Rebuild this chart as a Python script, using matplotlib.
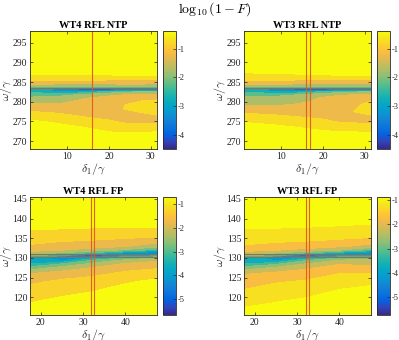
import matplotlib
matplotlib.use('Agg')
import numpy as np
import matplotlib.pyplot as plt
from matplotlib.colors import LinearSegmentedColormap, Normalize
from matplotlib.cm import ScalarMappable

plt.rcParams['font.family'] = 'Liberation Serif'
plt.rcParams['mathtext.fontset'] = 'cm'
plt.rcParams['axes.unicode_minus'] = False

# parula anchors (every 4th entry of the 64-colour map)
parula_rgb = [
    (0.2081, 0.1663, 0.5292), (0.1959, 0.2645, 0.7279), (0.0117, 0.3875, 0.8820),
    (0.0498, 0.4586, 0.8641), (0.0793, 0.5200, 0.8312), (0.0343, 0.5966, 0.8199),
    (0.0228, 0.6535, 0.7768), (0.0843, 0.6928, 0.7062), (0.2178, 0.7250, 0.6193),
    (0.3953, 0.7459, 0.5244), (0.5709, 0.7485, 0.4494), (0.7184, 0.7411, 0.3905),
    (0.8507, 0.7299, 0.3360), (0.9739, 0.7314, 0.2666), (0.9880, 0.8066, 0.1794),
    (0.9589, 0.8949, 0.1132), (0.9763, 0.9831, 0.0538)]
parula = LinearSegmentedColormap.from_list('parula', parula_rgb)

# ---- NTP panels: log10(1-F) ----
ntp_x = [1, 8, 14, 20, 24, 31.5]
ntp_y = [268, 272, 273.5, 275, 276.2, 277.5, 278.3, 279.3, 280.2, 281.0,
         281.8, 282.6, 283.0, 283.4, 284.0, 284.8, 285.8, 286.6, 287.5, 298]

wt4_ntp = [
    [-0.30, -0.30, -0.30, -0.30, -0.30, -0.30],
    [-0.35, -0.37, -0.40, -0.45, -0.48, -0.42],
    [-0.38, -0.42, -0.50, -0.65, -0.80, -0.75],
    [-0.45, -0.55, -0.75, -0.95, -1.08, -1.15],
    [-0.65, -0.80, -1.00, -1.12, -1.10, -1.05],
    [-0.98, -1.10, -1.15, -1.12, -1.05, -0.90],
    [-1.15, -1.20, -1.20, -1.10, -0.98, -0.80],
    [-1.45, -1.45, -1.30, -1.15, -1.00, -0.85],
    [-1.70, -1.65, -1.40, -1.20, -1.05, -0.95],
    [-1.90, -1.80, -1.55, -1.35, -1.20, -1.10],
    [-2.30, -2.20, -1.90, -1.60, -1.50, -1.45],
    [-2.60, -3.00, -2.90, -2.40, -2.10, -2.00],
    [-2.70, -3.60, -4.40, -4.30, -3.90, -3.70],
    [-2.40, -2.90, -3.20, -3.10, -2.90, -2.80],
    [-1.80, -1.90, -1.90, -1.90, -1.85, -1.80],
    [-1.30, -1.30, -1.30, -1.30, -1.30, -1.35],
    [-0.80, -0.85, -0.85, -0.90, -0.90, -0.95],
    [-0.58, -0.58, -0.56, -0.54, -0.50, -0.48],
    [-0.40, -0.40, -0.40, -0.40, -0.40, -0.40],
    [-0.30, -0.30, -0.30, -0.30, -0.30, -0.30]]

wt3_ntp = [
    [-0.30, -0.30, -0.30, -0.30, -0.30, -0.30],
    [-0.35, -0.36, -0.38, -0.40, -0.42, -0.44],
    [-0.40, -0.42, -0.50, -0.62, -0.72, -0.78],
    [-0.52, -0.60, -0.75, -0.90, -1.05, -1.12],
    [-0.80, -0.90, -1.00, -1.10, -1.10, -1.05],
    [-1.10, -1.15, -1.20, -1.15, -1.08, -0.90],
    [-1.30, -1.30, -1.30, -1.20, -1.08, -0.93],
    [-1.60, -1.60, -1.45, -1.25, -1.10, -0.95],
    [-1.75, -1.75, -1.65, -1.35, -1.15, -1.00],
    [-1.85, -1.85, -1.75, -1.45, -1.30, -1.15],
    [-2.10, -2.20, -2.00, -1.70, -1.55, -1.45],
    [-2.60, -2.90, -2.90, -2.50, -2.20, -2.00],
    [-2.70, -3.50, -4.30, -4.40, -4.00, -3.70],
    [-2.40, -2.90, -3.20, -3.10, -2.90, -2.80],
    [-1.80, -1.85, -1.90, -1.90, -1.88, -1.85],
    [-1.25, -1.28, -1.30, -1.32, -1.35, -1.38],
    [-0.85, -0.87, -0.90, -0.92, -0.95, -0.98],
    [-0.62, -0.60, -0.58, -0.55, -0.52, -0.48],
    [-0.48, -0.45, -0.42, -0.40, -0.38, -0.36],
    [-0.30, -0.30, -0.30, -0.30, -0.30, -0.30]]

# ---- FP panels ----
fp_x = [17.5, 25, 32, 40, 47.5]
fp_y = [115.5, 119, 122, 124, 126, 127.5, 128.5, 129.3, 130, 130.6,
        131.2, 132, 133, 134.5, 136, 138, 145.5]

wt4_fp = [
    [-0.80, -0.70, -0.68, -0.66, -0.65],
    [-1.03, -0.90, -0.80, -0.72, -0.70],
    [-1.35, -1.15, -1.05, -0.88, -0.78],
    [-1.60, -1.40, -1.30, -1.05, -0.90],
    [-2.00, -1.75, -1.62, -1.40, -1.20],
    [-2.80, -2.30, -2.00, -1.65, -1.55],
    [-3.50, -3.00, -2.40, -1.95, -1.80],
    [-3.80, -4.00, -2.90, -2.30, -2.05],
    [-3.40, -4.60, -3.80, -2.90, -2.50],
    [-2.90, -3.50, -5.60, -4.00, -3.60],
    [-2.30, -2.60, -3.20, -4.20, -4.70],
    [-1.80, -2.00, -2.20, -2.60, -3.30],
    [-1.55, -1.70, -1.80, -1.95, -2.30],
    [-1.38, -1.45, -1.50, -1.60, -1.75],
    [-1.15, -1.18, -1.22, -1.28, -1.30],
    [-0.90, -0.92, -0.95, -0.98, -0.97],
    [-0.70, -0.70, -0.68, -0.66, -0.65]]

wt3_fp = [
    [-0.85, -0.78, -0.72, -0.70, -0.68],
    [-1.12, -1.02, -0.92, -0.82, -0.76],
    [-1.50, -1.30, -1.20, -1.00, -0.90],
    [-1.85, -1.55, -1.45, -1.20, -1.10],
    [-2.05, -1.85, -1.72, -1.50, -1.48],
    [-2.80, -2.40, -2.10, -1.72, -1.90],
    [-3.50, -3.10, -2.50, -2.05, -2.10],
    [-3.80, -4.00, -3.00, -2.40, -2.30],
    [-3.40, -4.50, -3.90, -3.00, -2.60],
    [-2.90, -3.40, -5.50, -4.10, -3.70],
    [-2.30, -2.55, -3.10, -4.00, -4.60],
    [-1.80, -1.98, -2.15, -2.50, -3.20],
    [-1.55, -1.68, -1.78, -1.90, -2.20],
    [-1.32, -1.40, -1.45, -1.55, -1.70],
    [-1.12, -1.15, -1.20, -1.25, -1.28],
    [-0.95, -0.96, -0.98, -1.01, -1.03],
    [-0.72, -0.70, -0.68, -0.67, -0.66]]

ntp_levels = [-4.5, -4, -3.5, -3, -2.5, -2, -1.5, -1, -0.5, 0]
fp_levels = [-5.7, -5.5, -5, -4.5, -4, -3.5, -3, -2.5, -2, -1.5, -1, 0]

panels = [
    ("WT4 RFL NTP", ntp_x, ntp_y, wt4_ntp, [15.9], [283.5], (-4.5, -0.39), [-4, -3, -2, -1]),
    ("WT3 RFL NTP", ntp_x, ntp_y, wt3_ntp, [15.9, 16.8], [283.5], (-4.5, -0.39), [-4, -3, -2, -1]),
    ("WT4 RFL FP", fp_x, fp_y, wt4_fp, [32.0, 32.5], [130.3, 131.1], (-5.67, -0.69), [-5, -4, -3, -2, -1]),
    ("WT3 RFL FP", fp_x, fp_y, wt3_fp, [32.1, 32.85], [130.3, 131.1], (-5.75, -0.87), [-5, -4, -3, -2, -1]),
]

W, H = 399, 340
dark = (0.15, 0.15, 0.15)
fig = plt.figure(figsize=(W / 100, H / 100), dpi=100)
ax_left = [30, 244]
ax_top = [31, 197]
ax_w, ax_h = 127, 118

for i, (title, xs, ys, z, vx, hy, clim, cticks) in enumerate(panels):
    l = ax_left[i % 2]
    t = ax_top[i // 2]
    ax = fig.add_axes([l / W, 1 - (t + ax_h) / H, ax_w / W, ax_h / H])
    cax = fig.add_axes([(l + 133) / W, 1 - (t + ax_h) / H, 13 / W, ax_h / H])
    norm = Normalize(vmin=clim[0], vmax=clim[1])
    levels = ntp_levels if i < 2 else fp_levels
    ax.contourf(xs, ys, np.array(z), levels=levels, cmap=parula, norm=norm)
    for xv in vx:
        ax.axvline(xv, color=(0.88, 0.38, 0.12), lw=0.8)
    for yv in hy:
        ax.axhline(yv, color=(0.6, 0.42, 0.3), lw=0.8)
    ax.set_xlim(xs[0], xs[-1])
    ax.set_ylim(ys[0], ys[-1])
    if i < 2:
        ax.set_xticks([10, 20, 30])
        ax.set_yticks([270, 275, 280, 285, 290, 295])
    else:
        ax.set_xticks([20, 30, 40])
        ax.set_yticks([120, 125, 130, 135, 140, 145])
    ax.tick_params(direction='in', length=2, width=0.5, labelsize=7,
                   colors=dark, top=True, right=True, pad=2)
    for s in ax.spines.values():
        s.set_color(dark)
        s.set_linewidth(0.6)
    ax.set_title(title, fontsize=7.5, fontweight='bold', pad=2)
    ax.set_xlabel(r'$\delta_1/\gamma$', fontsize=8.5, color=dark)
    ax.set_ylabel(r'$\omega/\gamma$', fontsize=8.5, color=dark)
    ax.xaxis.set_label_coords(0.5, -0.1)
    ax.yaxis.set_label_coords(-0.128, 0.5)

    cb = fig.colorbar(ScalarMappable(norm=norm, cmap=parula), cax=cax)
    cb.set_ticks(cticks)
    cb.set_ticklabels([str(c) for c in cticks])
    cax.tick_params(direction='in', length=2, width=0.5, labelsize=6,
                    colors=dark, pad=1.5)
    cb.outline.set_edgecolor(dark)
    cb.outline.set_linewidth(0.6)

fig.text(0.54, 0.972, r'$\log_{10}(1-F)$', ha='center', va='center', fontsize=10)

plt.savefig('out.png', dpi=100)
